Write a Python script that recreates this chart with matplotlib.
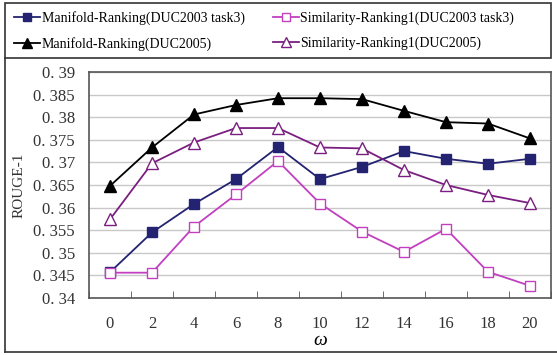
import numpy as np
import matplotlib.pyplot as plt
from matplotlib.patches import Rectangle
from matplotlib.lines import Line2D
from matplotlib.ticker import FuncFormatter

plt.rcParams['font.family'] = ['Liberation Serif', 'DejaVu Serif']

omega = [0, 2, 4, 6, 8, 10, 12, 14, 16, 18, 20]
mr_2003 = [0.3457, 0.3545, 0.3608, 0.3663, 0.3734, 0.3663, 0.3690, 0.3725, 0.3708, 0.3697, 0.3708]
sr_2003 = [0.3456, 0.3456, 0.3558, 0.3629, 0.3703, 0.3609, 0.3547, 0.3502, 0.3553, 0.3458, 0.3427]
mr_2005 = [0.3648, 0.3733, 0.3806, 0.3827, 0.3842, 0.3842, 0.3840, 0.3814, 0.3789, 0.3786, 0.3753]
sr_2005 = [0.3574, 0.3698, 0.3744, 0.3776, 0.3776, 0.3733, 0.3731, 0.3683, 0.3650, 0.3628, 0.3610]

labels = ["Manifold-Ranking(DUC2003 task3)", "Similarity-Ranking1(DUC2003 task3)",
          "Manifold-Ranking(DUC2005)", "Similarity-Ranking1(DUC2005)"]

navy = "#232372"
pink = "#c23fbf"
purple = "#7a1f80"

fig = plt.figure(figsize=(5.57, 3.55), dpi=100)
ax = fig.add_axes([89/557, 57/355, (551-89)/557, (298-72)/355])

x = np.arange(len(omega))
ax.plot(x, mr_2003, color=navy, marker="s", ms=7, lw=1.3, mfc=navy, mec=navy)
ax.plot(x, sr_2003, color=pink, marker="s", ms=7, lw=1.3, mfc="white", mec=pink)
ax.plot(x, mr_2005, color="black", marker="^", ms=8, lw=1.3, mfc="black", mec="black")
ax.plot(x, sr_2005, color=purple, marker="^", ms=8, lw=1.3, mfc="white", mec=purple)

ax.set_xlim(-0.5, len(omega) - 0.5)
ax.set_ylim(0.34, 0.39)
ax.set_yticks(np.arange(0.34, 0.3901, 0.005))
ax.yaxis.set_major_formatter(FuncFormatter(lambda v, p: ("%.3f" % v).rstrip("0").replace(".", ". ")))
ax.set_xticks(x)
ax.set_xticklabels([str(o) for o in omega])
ax.set_xticks(np.arange(-0.5, len(omega), 1), minor=True)
ax.tick_params(axis="x", which="major", length=0, pad=13, labelsize=12, colors="#333333")
ax.tick_params(axis="x", which="minor", length=5, direction="in", color="#555555")
ax.tick_params(axis="y", length=0, pad=10, labelsize=12, colors="#333333")
ax.yaxis.grid(True, color="#c8c8c8", lw=1)
ax.set_axisbelow(True)
for s in ax.spines.values():
    s.set_color("#555555")
    s.set_linewidth(1.2)

ax.set_ylabel("ROUGE-1", fontsize=11, color="#333333", labelpad=6)
ax.set_xlabel("ω", fontsize=14, style="italic", labelpad=0)

# legend box and outer frame
fig.patches.append(Rectangle((5/557, 1 - 58/355), (551-5)/557, 55/355, transform=fig.transFigure,
                             fill=False, ec="#333333", lw=1.2))
fig.lines.append(Line2D([5/557, 5/557], [1 - 58/355, 1 - 352/355], transform=fig.transFigure, color="#333333", lw=1.2))
fig.lines.append(Line2D([5/557, 1], [1 - 352/355, 1 - 352/355], transform=fig.transFigure, color="#333333", lw=1.2))

handles = [Line2D([], [], color=navy, marker="s", ms=6, mfc=navy, mec=navy, lw=1.3),
           Line2D([], [], color=pink, marker="s", ms=6, mfc="white", mec=pink, lw=1.3),
           Line2D([], [], color="black", marker="^", ms=7, mfc="black", mec="black", lw=1.3),
           Line2D([], [], color=purple, marker="^", ms=7, mfc="white", mec=purple, lw=1.3)]
order = [0, 2, 1, 3]
fig.legend([handles[i] for i in order], [labels[i] for i in order], ncol=2,
           loc="center left", bbox_to_anchor=(14/557, 1 - 31/355), frameon=False,
           fontsize=10, handlelength=1.9, handletextpad=0.1, columnspacing=2.0,
           labelspacing=0.85, borderaxespad=0, borderpad=0)

fig.savefig("out.png", dpi=100)
